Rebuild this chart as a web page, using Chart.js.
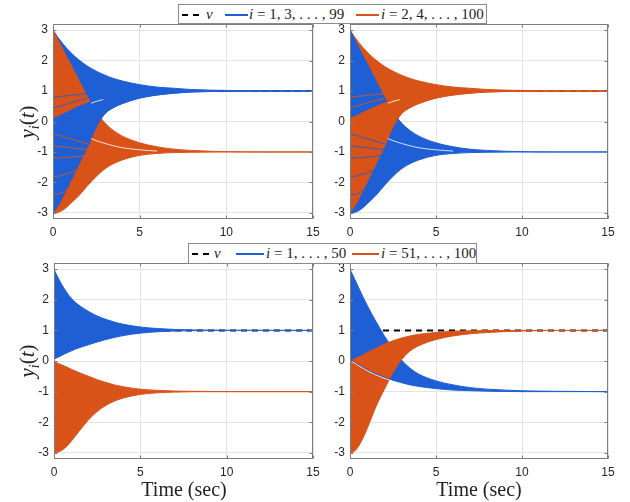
<!DOCTYPE html>
<html lang="en">
<head>
<meta charset="UTF-8">
<title>Agent outputs y_i(t)</title>
<script src="https://cdn.jsdelivr.net/npm/chart.js@4.4.1/dist/chart.umd.min.js"></script>
<style>
    body { margin: 0; background: #fff; width: 630px; height: 502px; overflow: hidden; position: relative; }
    canvas { position: absolute; }
    .legend { position: absolute; box-sizing: border-box; border: 1px solid #8a8a8a; background: #fff; z-index: 5;
              font-family: 'Liberation Serif', 'DejaVu Serif', serif; font-size: 15px; color: #222; }
    .legend > * { position: absolute; }
    .legend .txt { top: 0; line-height: 18px; white-space: nowrap; }
    .legend .ln { height: 1.5px; }
    .ytitle { position: absolute; width: 60px; height: 24px; line-height: 24px; text-align: center; transform: rotate(-90deg);
              font-family: 'Liberation Serif', serif; font-size: 21px; color: #222; }
    .ytitle sub { font-size: 14px; font-style: italic; }
    .xtitle { position: absolute; width: 140px; text-align: center; font-family: 'Liberation Serif', serif; font-size: 20px; color: #222; }
</style>
</head>
<body>
<canvas id="c1" width="330" height="250" style="left:0;top:0"></canvas>
<canvas id="c2" width="310" height="250" style="left:320px;top:0"></canvas>
<canvas id="c3" width="330" height="262" style="left:0;top:240px"></canvas>
<canvas id="c4" width="310" height="262" style="left:320px;top:240px"></canvas>

<div class="legend" style="left:178px;top:4px;width:309px;height:20px">
    <svg style="left:2px;top:7px" width="20" height="6"><line x1="1" y1="3" x2="19" y2="3" stroke="#000" stroke-width="2" stroke-dasharray="6,5"/></svg>
    <span class="txt" style="left:27px"><i>v</i></span>
    <div class="ln" style="left:46px;top:9px;width:23px;background:#1f5fd6"></div>
    <span class="txt" style="left:70px"><i>i</i> = 1, 3, . . . , 99</span>
    <div class="ln" style="left:177px;top:9px;width:23px;background:#d95319"></div>
    <span class="txt" style="left:202px"><i>i</i> = 2, 4, . . . , 100</span>
</div>
<div class="legend" style="left:188px;top:243px;width:289px;height:21px">
    <svg style="left:2px;top:7px" width="20" height="6"><line x1="1" y1="3" x2="19" y2="3" stroke="#000" stroke-width="2" stroke-dasharray="6,5"/></svg>
    <span class="txt" style="left:25px"><i>v</i></span>
    <div class="ln" style="left:47px;top:9px;width:28px;background:#1f5fd6"></div>
    <span class="txt" style="left:77px"><i>i</i> = 1, . . . , 50</span>
    <div class="ln" style="left:163px;top:9px;width:27px;background:#d95319"></div>
    <span class="txt" style="left:192px"><i>i</i> = 51, . . . , 100</span>
</div>

<div class="ytitle" style="left:-3px;top:110px"><i>y</i><sub>i</sub>(<i>t</i>)</div>
<div class="ytitle" style="left:-3px;top:349px"><i>y</i><sub>i</sub>(<i>t</i>)</div>
<div class="xtitle" style="left:114px;top:478px">Time (sec)</div>
<div class="xtitle" style="left:409px;top:478px">Time (sec)</div>

<script>
    const BLUE = '#1f5fd6';
    const ORANGE = '#d95319';

    // time samples (sec) and axes
    const T = [0, 0.25, 0.5, 0.75, 1, 1.25, 1.5, 2, 2.5, 3, 3.5, 4, 5, 6, 7, 8, 10, 12, 15];
    const xTicks = [0, 5, 10, 15];
    const yTicks = [-3, -2, -1, 0, 1, 2, 3];
    const vT = [0, 15];
    const vY = [1, 1];

    // top row: the group going to +1 and the group going to -1 (edges of each bundle)
    const toPlusTop    = [3, 2.79, 2.6, 2.43, 2.28, 2.14, 2.02, 1.81, 1.65, 1.52, 1.41, 1.33, 1.21, 1.13, 1.09, 1.05, 1.02, 1.01, 1];
    const toPlusBottom = [-3, -2.8, -2.55, -2.27, -1.98, -1.7, -1.41, -0.83, -0.18, 0.26, 0.46, 0.59, 0.77, 0.87, 0.93, 0.97, 0.99, 1, 1];
    const toPlusSplit  = [0.1, 0.15, 0.22, 0.29, 0.36, 0.43, 0.49, 0.61, 0.7, 0.77, 0.82, 0.86, 0.92, 0.95, 0.97, 0.98, 0.995, 1, 1];
    const toMinusTop    = [3, 2.72, 2.44, 2.16, 1.9, 1.62, 1.35, 0.8, 0.32, -0.05, -0.3, -0.48, -0.7, -0.83, -0.91, -0.95, -0.99, -1, -1];
    const toMinusBottom = [-3, -2.99, -2.93, -2.83, -2.7, -2.57, -2.43, -2.1, -1.8, -1.55, -1.38, -1.26, -1.11, -1.05, -1.02, -1.01, -1, -1, -1];

    // single trajectories that show through in the fan near t = 0
    const fanT = [0, 0.25, 0.5, 0.75, 1, 1.25, 1.5, 2];
    const fanMinus = [
        [-0.4, -0.44, -0.48, -0.53, -0.57, -0.61, -0.65, -0.73],
        [-0.8, -0.82, -0.83, -0.85, -0.86, -0.88, -0.89, -0.92],
        [-1.2, -1.2, -1.19, -1.18, -1.17, -1.16, -1.14, -1.11],
        [-1.8, -1.8, -1.77, -1.73, -1.68, -1.63, -1.57, -1.44],
        [-2.4, -2.39, -2.35, -2.28, -2.19, -2.1, -2.0, -1.77]
    ];
    const fanPlus = [
        [0.45, 0.48, 0.52, 0.57, 0.61, 0.65, 0.69, 0.76],
        [0.8, 0.81, 0.83, 0.84, 0.86, 0.87, 0.89, 0.91]
    ];
    // white gaps inside the bundles
    const gapPlusT = [2.2, 2.5, 2.9];
    const gapPlusY = [0.6, 0.66, 0.72];
    const gapMinusT = [2.2, 2.5, 3, 3.5, 4, 5, 6];
    const gapMinusY = [-0.56, -0.63, -0.72, -0.8, -0.86, -0.93, -0.97];

    // bottom left: i = 1..50 to +1, i = 51..100 to -1
    const p3BlueTop      = [3, 2.7, 2.45, 2.23, 2.05, 1.91, 1.8, 1.62, 1.47, 1.36, 1.27, 1.2, 1.11, 1.06, 1.03, 1.015, 1.004, 1, 1];
    const p3BlueBottom   = [0.06, 0.13, 0.2, 0.27, 0.33, 0.39, 0.44, 0.53, 0.62, 0.7, 0.77, 0.83, 0.91, 0.955, 0.98, 0.99, 1, 1, 1];
    const p3OrangeTop    = [-0.03, -0.08, -0.14, -0.2, -0.27, -0.33, -0.39, -0.5, -0.61, -0.7, -0.78, -0.84, -0.92, -0.96, -0.98, -0.99, -1, -1, -1];
    const p3OrangeBottom = [-3, -2.97, -2.9, -2.78, -2.62, -2.44, -2.26, -1.92, -1.65, -1.45, -1.31, -1.21, -1.09, -1.04, -1.015, -1.005, -1, -1, -1];

    // bottom right: i = 1..50 to -1, i = 51..100 to +1
    const p4BlueTop      = [3, 2.7, 2.4, 2.1, 1.82, 1.55, 1.3, 0.82, 0.4, 0.03, -0.24, -0.43, -0.65, -0.78, -0.87, -0.92, -0.97, -0.99, -1];
    const p4BlueBottom   = [0.05, -0.03, -0.12, -0.2, -0.28, -0.35, -0.42, -0.53, -0.63, -0.71, -0.78, -0.83, -0.9, -0.95, -0.97, -0.985, -1, -1, -1];
    const p4OrangeTop    = [-0.02, 0.06, 0.13, 0.2, 0.27, 0.34, 0.41, 0.55, 0.66, 0.75, 0.82, 0.87, 0.93, 0.97, 0.985, 0.995, 1, 1, 1];
    const p4OrangeBottom = [-3, -2.95, -2.78, -2.52, -2.2, -1.85, -1.5, -0.92, -0.38, 0.05, 0.33, 0.5, 0.7, 0.82, 0.89, 0.93, 0.98, 0.995, 1];
    const p4GapT = [0, 0.25, 0.5, 0.75, 1, 1.25, 1.5, 2, 2.5];
    const p4GapY = [0.01, -0.06, -0.15, -0.23, -0.31, -0.38, -0.45, -0.56, -0.66];

    function pts(xs, ys) {
        return xs.map((x, i) => ({ x: x, y: ys[i] }));
    }

    // datasets are pushed bottom-first; order is set later so the first one is drawn first
    function addBand(list, top, bottom, color) {
        const lowIdx = list.length + 1;
        list.push({ data: pts(T, top), borderColor: color, backgroundColor: color, fill: lowIdx });
        list.push({ data: pts(T, bottom), borderColor: color, fill: false });
    }
    function addLine(list, xs, ys, color, width, dash) {
        list.push({ data: pts(xs, ys), borderColor: color, borderWidth: width, borderDash: dash || [], fill: false });
    }
    function addV(list) {
        addLine(list, vT, vY, '#000', 2, [6, 5]);
    }

    function fanPanel(plusColor, minusColor) {
        const d = [];
        addV(d);
        addBand(d, toPlusTop, toPlusBottom, plusColor);
        addBand(d, toMinusTop, toMinusBottom, minusColor);
        addBand(d, toPlusSplit, toPlusBottom, plusColor);
        fanMinus.forEach(y => addLine(d, fanT, y, minusColor, 0.9));
        fanPlus.forEach(y => addLine(d, fanT, y, plusColor, 0.9));
        addLine(d, gapPlusT, gapPlusY, 'rgba(255,255,255,0.8)', 1);
        addLine(d, gapMinusT, gapMinusY, 'rgba(255,255,255,0.8)', 1);
        return d;
    }

    const boxPlugin = {
        id: 'box',
        afterDraw(chart) {
            const { ctx, chartArea: a, scales } = chart;
            const l = Math.round(a.left) + 0.5, r = Math.round(a.right) - 0.5;
            const t = Math.round(a.top) + 0.5, b = Math.round(a.bottom) - 0.5;
            ctx.save();
            ctx.strokeStyle = '#7d7d7d';
            ctx.lineWidth = 1;
            ctx.beginPath();
            xTicks.forEach(v => {
                const x = Math.round(scales.x.getPixelForValue(v)) + 0.5;
                ctx.moveTo(x, b); ctx.lineTo(x, b - 3);
                ctx.moveTo(x, t); ctx.lineTo(x, t + 3);
            });
            yTicks.forEach(v => {
                const y = Math.round(scales.y.getPixelForValue(v)) + 0.5;
                ctx.moveTo(l, y); ctx.lineTo(l + 3, y);
                ctx.moveTo(r, y); ctx.lineTo(r - 3, y);
            });
            ctx.stroke();
            ctx.strokeRect(l, t, r - l, b - t);
            ctx.restore();
        }
    };

    function makeChart(id, datasets, g) {
        const n = datasets.length;
        datasets.forEach((ds, i) => {
            ds.order = n - i;
            if (ds.borderWidth === undefined) ds.borderWidth = 1;
        });
        const tickFont = { family: "'Liberation Sans', Arial, sans-serif", size: 12 };
        return new Chart(document.getElementById(id), {
            type: 'line',
            data: { datasets: datasets },
            plugins: [boxPlugin],
            options: {
                responsive: false,
                animation: false,
                events: [],
                layout: { padding: { top: g.top, right: g.right, left: 0, bottom: 0 } },
                elements: {
                    point: { radius: 0 },
                    line: { cubicInterpolationMode: 'monotone', borderWidth: 1 }
                },
                plugins: {
                    legend: { display: false },
                    tooltip: { enabled: false },
                    filler: { drawTime: 'beforeDatasetDraw' }
                },
                scales: {
                    x: {
                        type: 'linear', min: 0, max: 15,
                        afterBuildTicks: s => { s.ticks = xTicks.map(v => ({ value: v })); },
                        afterFit: s => { s.height = g.xh; },
                        grid: { color: '#e4e4e4', drawTicks: false },
                        border: { display: false },
                        ticks: { font: tickFont, color: '#262626', padding: 6, maxRotation: 0 }
                    },
                    y: {
                        type: 'linear', min: -3.2, max: 3.2,
                        afterBuildTicks: s => { s.ticks = yTicks.map(v => ({ value: v })); },
                        afterFit: s => { s.width = g.yw; },
                        grid: { color: '#e4e4e4', drawTicks: false },
                        border: { display: false },
                        ticks: { font: tickFont, color: '#262626', padding: 5 }
                    }
                }
            }
        });
    }

    makeChart('c1', fanPanel(BLUE, ORANGE), { top: 24, right: 17, yw: 53, xh: 31 });
    makeChart('c2', fanPanel(ORANGE, BLUE), { top: 24, right: 22, yw: 30, xh: 31 });

    const d3 = [];
    addV(d3);
    addBand(d3, p3BlueTop, p3BlueBottom, BLUE);
    addBand(d3, p3OrangeTop, p3OrangeBottom, ORANGE);
    makeChart('c3', d3, { top: 23, right: 17, yw: 54, xh: 43 });

    const d4 = [];
    addV(d4);
    addBand(d4, p4BlueTop, p4BlueBottom, BLUE);
    addBand(d4, p4OrangeTop, p4OrangeBottom, ORANGE);
    addLine(d4, p4GapT, p4GapY, 'rgba(255,255,255,0.85)', 1.1);
    addLine(d4, p4GapT, p4BlueBottom.slice(0, p4GapT.length), BLUE, 1);
    makeChart('c4', d4, { top: 23, right: 22, yw: 30, xh: 43 });
</script>
</body>
</html>
